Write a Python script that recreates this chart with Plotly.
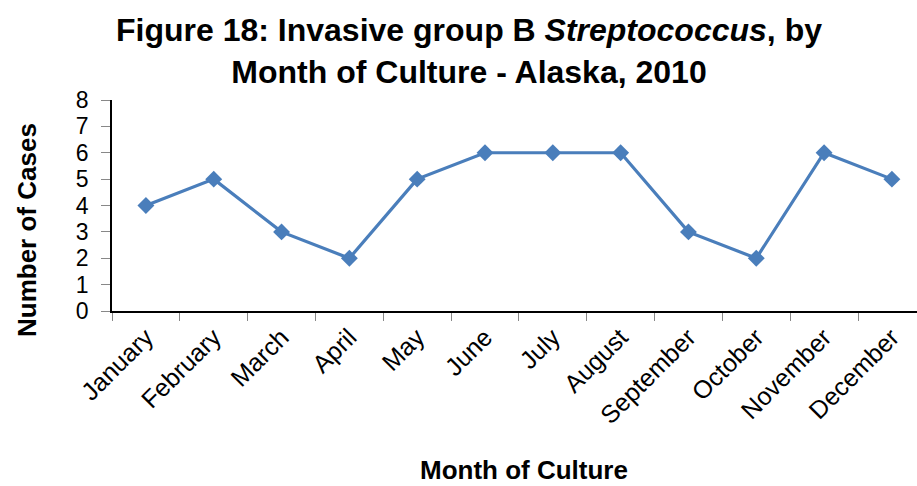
import plotly.graph_objects as go

months = ["January", "February", "March", "April", "May", "June", "July",
          "August", "September", "October", "November", "December"]
cases = [4, 5, 3, 2, 5, 6, 6, 6, 3, 2, 6, 5]
y_ticks = [0, 1, 2, 3, 4, 5, 6, 7, 8]

W, H = 917, 486
L, R, T, B = 112, 0, 100, 175
PW, PH = W - L - R, H - T - B

fig = go.Figure()
fig.add_trace(go.Scatter(
    x=months, y=cases, mode="lines+markers",
    line=dict(color="#4A7EBB", width=3.2),
    marker=dict(symbol="diamond", size=13, color="#4A7EBB"),
    showlegend=False,
))


def px_annotation(text, x, y, size, angle=0):
    # place a text label by pixel position within the figure
    return dict(text=text, x=(x - L) / PW, y=(H - B - y) / PH,
                xref="paper", yref="paper", xanchor="center", yanchor="middle",
                textangle=angle, showarrow=False, font=dict(size=size))


fig.update_layout(
    width=W, height=H,
    margin=dict(l=L, r=R, t=T, b=B),
    paper_bgcolor="white", plot_bgcolor="white",
    font=dict(family="Liberation Sans, Arial, sans-serif", color="black"),
    title=dict(
        text="Figure 18: Invasive group B <i>Streptococcus</i>, by<br>Month of Culture - Alaska, 2010",
        x=469 / W, xref="container", xanchor="center",
        y=1 - 41 / H, yref="container", yanchor="middle",
        font=dict(family="Liberation Sans, Arial, sans-serif",
                  size=32, color="black", weight="bold"),
    ),
    xaxis=dict(
        type="category", range=[-0.5, 11.37],
        tickson="boundaries", ticks="outside", ticklen=8, tickcolor="#888",
        tickangle=-45, tickfont=dict(size=25),
        showline=True, linecolor="black", linewidth=1.5,
        showgrid=False, zeroline=False,
    ),
    yaxis=dict(
        range=[0, 8], tickvals=y_ticks, ticks="outside", ticklen=9, tickcolor="#888",
        tickfont=dict(size=23), ticklabelstandoff=8,
        showline=True, linecolor="black", linewidth=1.5,
        showgrid=False, zeroline=False,
    ),
    annotations=[
        px_annotation("<b>Month of Culture</b>", 524, 470, 26),
        px_annotation("<b>Number of Cases</b>", 27, 230, 26, angle=-90),
    ],
)

fig.write_html("out.html")
